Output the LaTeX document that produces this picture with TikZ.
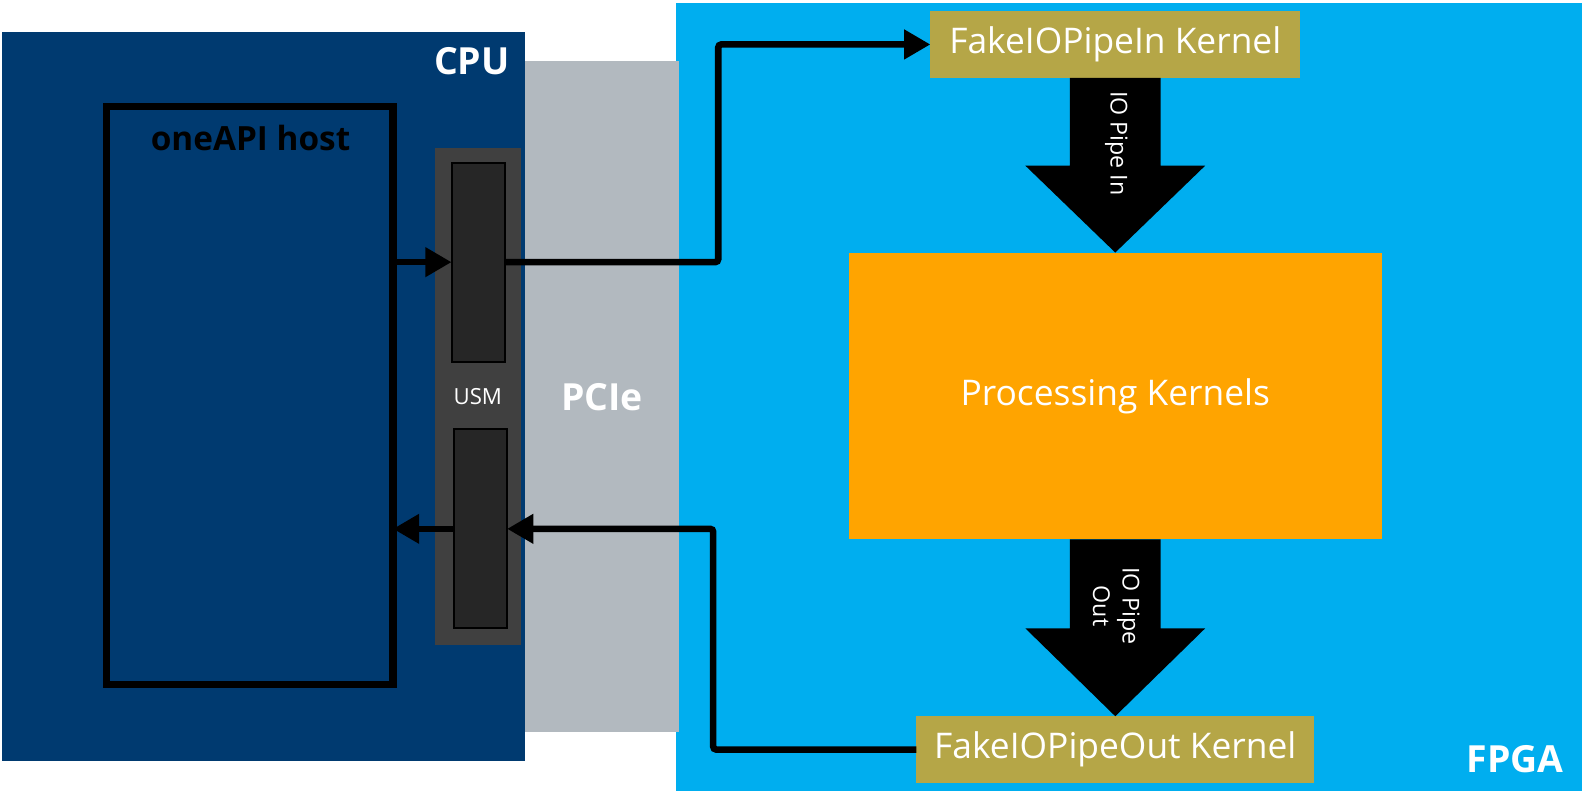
\documentclass[tikz,border=0pt]{standalone}
\usepackage{fontspec}
\setmainfont{Open Sans}
\usetikzlibrary{arrows.meta, positioning, calc}
\definecolor{cpublue}{HTML}{003A70}
\definecolor{pciegray}{HTML}{B2B9BF}
\definecolor{fpgablue}{HTML}{00AEEF}
\definecolor{usmgray}{HTML}{404040}
\definecolor{bufgray}{HTML}{262626}
\definecolor{kernelolive}{HTML}{B5A647}
\definecolor{procorange}{HTML}{FFA400}

\begin{document}
\begin{tikzpicture}[x=1pt, y=-1pt, >={Triangle[length=26pt, width=28pt]},
    region/.style={inner sep=0pt, outer sep=0pt, anchor=north west},
    kernel/.style={region, fill=kernelolive, text=white, minimum height=66pt, font=\fontsize{35}{40}\selectfont},
    buffer/.style={region, draw=black, line width=2pt, fill=bufgray, minimum width=53pt, minimum height=197pt},
    flow/.style={line width=6.5pt, rounded corners=3pt},
    title/.style={text=white, anchor=base, font=\bfseries\fontsize{37}{40}\selectfont},
    pipelbl/.style={text=white, rotate=-90, align=center, font=\fontsize{23}{29}\selectfont}]
    \useasboundingbox (0,0) rectangle (1568,786);
    % the three regions
    \node[region, fill=fpgablue, minimum width=897pt, minimum height=780pt] (fpga) at (669,3) {};
    \node[region, fill=pciegray, minimum width=152pt, minimum height=665pt] (pcie) at (520,60) {};
    \node[region, fill=cpublue, minimum width=518pt, minimum height=721pt] (cpu) at (2,32) {};
    \node[title] (cpulbl) at (467,74) {CPU};
    \node[title] (pcielbl) at (596,406) {PCIe};
    \node[title] (fpgalbl) at (1500,765) {FPGA};
    % host and USM
    \node[region, draw=black, line width=7pt, minimum width=284pt, minimum height=573pt] (host) at (105,105) {};
    \node[anchor=base, font=\bfseries\fontsize{33}{36}\selectfont] (hostlbl) at (248,149) {oneAPI host};
    \node[region, fill=usmgray, minimum width=85pt, minimum height=491pt] (usm) at (431,147) {};
    \node[buffer] (bufin) at (447,161) {};
    \node[buffer] (bufout) at (449,425) {};
    \node[anchor=base, text=white, font=\fontsize{22}{24}\selectfont] (usmlbl) at (473,400) {USM};
    % kernels
    \node[kernel, minimum width=366pt] (kin) at (921,11) {FakeIOPipeIn Kernel};
    \node[region, fill=procorange, text=white, minimum width=528pt, minimum height=284pt, font=\fontsize{35}{40}\selectfont] (proc) at (840,250) {Processing Kernels};
    \node[kernel, minimum width=394pt] (kout) at (907,709) {FakeIOPipeOut Kernel};
    % pipes
    \fill ([xshift=-45pt]kin.south) -- ([xshift=45pt]kin.south) -- (1149,164) -- (1193,164) -- (proc.north) -- (1015,164) -- (1059,164) -- cycle;
    \fill ([xshift=-45pt]proc.south) -- ([xshift=45pt]proc.south) -- (1149,622) -- (1193,622) -- (kout.north) -- (1015,622) -- (1059,622) -- cycle;
    \node[pipelbl] (pipein) at (1105,142) {IO Pipe In};
    \node[pipelbl] (pipeout) at (1105,600) {IO Pipe\\Out};
    % connectors
    \coordinate (bendin) at (711,0);
    \coordinate (bendout) at (706,0);
    \draw[flow, ->] (host.east |- bufin.west) -- (bufin.west);
    \draw[flow, ->] (bufin.east) -- (bendin |- bufin.east) |- (kin.west);
    \draw[flow, ->] (kout.west) -- (bendout |- kout.west) |- (bufout.east);
    \draw[flow, ->] (bufout.west) -- (host.east |- bufout.west);
\end{tikzpicture}
\end{document}
